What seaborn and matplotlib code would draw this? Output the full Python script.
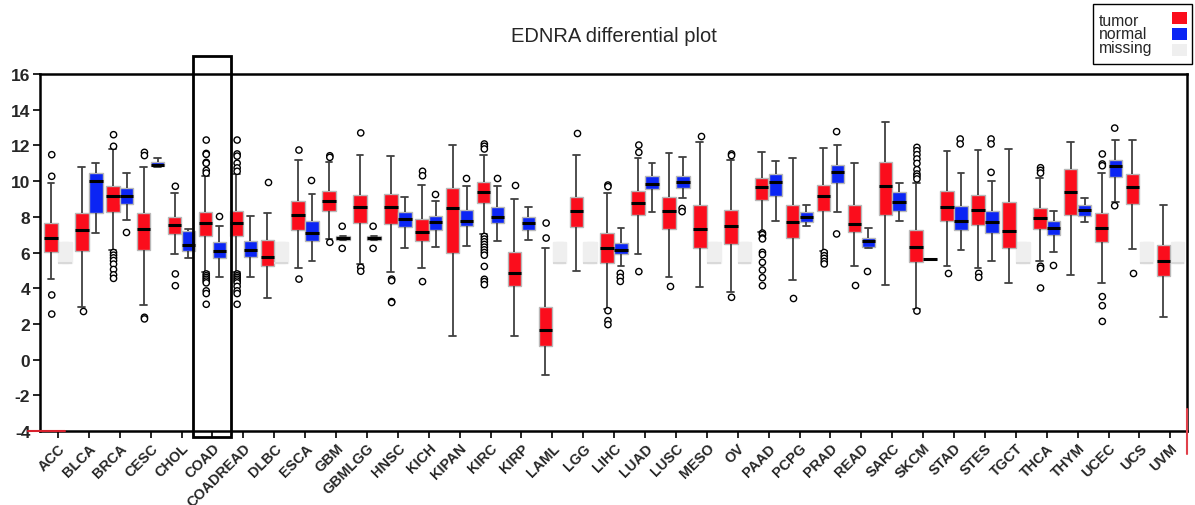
"""EDNRA tumor vs normal expression boxplot across TCGA cohorts."""

import pandas as pd
import matplotlib.pyplot as plt
import seaborn as sns
from matplotlib.patches import Rectangle

cancers = [
    "ACC", "BLCA", "BRCA", "CESC", "CHOL", "COAD", "COADREAD", "DLBC", "ESCA",
    "GBM", "GBMLGG", "HNSC", "KICH", "KIPAN", "KIRC", "KIRP", "LAML", "LGG",
    "LIHC", "LUAD", "LUSC", "MESO", "OV", "PAAD", "PCPG", "PRAD", "READ",
    "SARC", "SKCM", "STAD", "STES", "TGCT", "THCA", "THYM", "UCEC", "UCS", "UVM",
]

# tumor box stats: whisker low, q1, median, q3, whisker high
tumor_lo = [4.52, 2.93, 6.15, 3.08, 5.92, 4.90, 4.90, 3.43, 5.11, 6.76, 5.36, 4.93,
            5.11, 1.34, 7.04, 1.34, -0.86, 4.98, 2.84, 5.92, 4.61, 4.05, 3.81, 7.17,
            4.46, 6.10, 5.26, 4.18, 2.85, 5.23, 5.11, 4.29, 5.50, 4.76, 4.29, 6.20, 2.40]
tumor_q1 = [6.05, 6.07, 8.29, 6.14, 7.04, 6.90, 6.90, 5.26, 7.28, 8.34, 7.65, 7.60,
            6.63, 5.97, 8.77, 4.14, 0.74, 7.41, 5.41, 8.12, 7.32, 6.25, 6.48, 8.96,
            6.79, 8.34, 7.13, 8.10, 5.49, 7.75, 7.56, 6.25, 7.32, 8.12, 6.57, 8.72, 4.66]
tumor_med = [6.81, 7.26, 9.15, 7.32, 7.54, 7.63, 7.63, 5.77, 8.10, 8.90, 8.53, 8.53,
             7.13, 8.49, 9.41, 4.85, 1.66, 8.32, 6.23, 8.77, 8.31, 7.32, 7.47, 9.69,
             7.69, 9.15, 7.60, 9.74, 6.29, 8.57, 8.40, 7.22, 7.95, 9.37, 7.37, 9.69, 5.54]
tumor_q3 = [7.63, 8.21, 9.74, 8.19, 8.01, 8.25, 8.34, 6.72, 8.90, 9.43, 9.22, 9.28,
            7.88, 9.59, 9.93, 6.05, 2.97, 9.13, 7.09, 9.43, 9.09, 8.66, 8.40, 10.15,
            8.68, 9.78, 8.68, 11.05, 7.26, 9.43, 9.22, 8.81, 8.49, 10.68, 8.19, 10.40, 6.44]
tumor_hi = [9.89, 10.81, 11.80, 10.77, 9.33, 10.30, 10.40, 8.21, 11.18, 11.05, 11.48, 11.42,
            9.78, 12.02, 11.48, 9.00, 6.23, 11.48, 9.32, 11.28, 11.56, 12.21, 11.20, 11.65,
            11.29, 11.84, 10.99, 13.33, 9.90, 11.70, 11.76, 11.80, 10.20, 12.21, 10.45, 12.32, 8.68]
tumor_out = [
    [3.62, 2.55, 10.27, 11.48],
    [2.70],
    [12.6, 11.95, 6.0, 5.85, 5.7, 5.55, 5.35, 5.05, 4.75, 4.55],
    [11.61, 11.43, 2.37, 2.28],
    [9.71, 4.8, 4.14],
    [12.3, 11.55, 11.5, 11.05, 11.0, 10.6, 10.45, 4.8, 4.7, 4.6, 4.5, 4.4, 4.3, 3.85, 3.7, 3.1],
    [12.3, 11.52, 11.4, 11.0, 10.74, 10.55, 4.8, 4.7, 4.6, 4.5, 4.4, 4.3, 4.1, 3.85, 3.7, 3.1],
    [9.93],
    [11.74, 4.51],
    [11.42, 11.33, 6.57],
    [12.7, 5.17, 4.95],
    [4.51, 4.42, 3.25, 3.2],
    [10.55, 10.3, 4.37],
    [],
    [12.08, 11.95, 11.8, 6.9, 6.75, 6.6, 6.45, 6.3, 6.15, 6.0, 5.85, 5.22, 4.5, 4.37, 4.2],
    [9.8],
    [7.65, 6.81],
    [12.7],
    [9.78, 9.69, 2.74, 2.18, 1.96],
    [12.02, 11.61, 4.93],
    [4.14],
    [12.51],
    [11.52, 11.43, 3.49],
    [7.09, 7.0, 6.81, 6.76, 6.01, 5.88, 5.45, 5.02, 4.59, 4.14],
    [3.43],
    [6.0, 5.82, 5.67, 5.5, 5.36],
    [4.18],
    [],
    [11.89, 11.7, 11.48, 11.24, 10.99, 10.64, 10.4, 10.27, 10.12, 2.72],
    [4.83],
    [4.83, 4.61],
    [],
    [10.75, 10.6, 10.45, 5.23, 5.11, 4.01],
    [],
    [11.52, 10.96, 10.86, 3.53, 3.02, 2.14],
    [4.83],
    [],
]

# normal box stats (None = no normal samples)
normal_lo = [None, 7.07, 7.82, 10.80, 5.69, 4.61, 4.61, None, 5.50, 6.72, 6.72, 6.23,
             6.33, 6.35, 6.63, 6.72, None, None, 5.23, 8.29, 9.03, None, None, 7.75,
             7.50, 8.25, 6.23, 7.78, 5.64, 6.14, 5.50, None, 6.05, 7.73, 8.85, None, None]
normal_q1 = [None, 8.19, 8.72, 10.85, 6.10, 5.69, 5.73, None, 6.66, 6.72, 6.72, 7.41,
             7.28, 7.50, 7.63, 7.28, None, None, 5.92, 9.56, 9.60, None, None, 9.18,
             7.73, 9.89, 6.29, 8.34, 5.64, 7.28, 7.09, None, 7.00, 8.06, 10.25, None, None]
normal_med = [None, 10.02, 9.15, 10.92, 6.42, 6.07, 6.16, None, 7.07, 6.81, 6.81, 7.86,
              7.69, 7.78, 8.01, 7.63, None, None, 6.16, 9.84, 9.97, None, None, 9.93,
              7.97, 10.53, 6.66, 8.85, 5.64, 7.75, 7.69, None, 7.35, 8.40, 10.83, None, None]
normal_q3 = [None, 10.45, 9.59, 11.05, 7.22, 6.57, 6.66, None, 7.78, 6.94, 6.94, 8.25,
             8.03, 8.38, 8.57, 8.01, None, None, 6.53, 10.27, 10.27, None, None, 10.40,
             8.29, 10.90, 6.81, 9.37, 5.64, 8.62, 8.32, None, 7.78, 8.66, 11.20, None, None]
normal_hi = [None, 11.03, 10.45, 11.30, 7.32, 7.50, 8.06, None, 9.28, 6.94, 6.94, 9.13,
             8.87, 9.71, 9.71, 8.53, None, None, 7.35, 10.99, 11.37, None, None, 11.14,
             8.68, 12.02, 7.35, 9.89, 5.64, 10.45, 10.00, None, 8.34, 9.03, 12.32, None, None]
normal_out = [
    [], [], [7.17], [], [], [8.03], [], [], [10.06], [7.47, 6.23], [7.47, 6.23], [],
    [9.28], [10.17], [10.17], [], [], [], [4.83, 4.61, 4.38], [], [8.47, 8.29], [], [],
    [], [], [12.77, 7.04], [4.94], [], [], [12.36, 12.08], [12.36, 12.08, 10.49], [],
    [5.3], [], [12.97, 8.62], [], [],
]

# placeholder box drawn where normal samples are missing
missing_stats = [5.4, 5.4, 5.4, 6.6, 6.6]

RED = "#fb0d1c"
BLUE = "#0b25f4"
GRAY = "#efefef"


def box_frame():
    rows = []
    groups = [
        ("tumor", tumor_lo, tumor_q1, tumor_med, tumor_q3, tumor_hi),
        ("normal", normal_lo, normal_q1, normal_med, normal_q3, normal_hi),
    ]
    for group, lo, q1, med, q3, hi in groups:
        for i, c in enumerate(cancers):
            if lo[i] is None:
                continue
            for v in (lo[i], q1[i], med[i], q3[i], hi[i]):
                rows.append({"cancer": c, "group": group, "value": v})
    return pd.DataFrame(rows)


def outlier_frame():
    rows = []
    for group, out in (("tumor", tumor_out), ("normal", normal_out)):
        for c, vals in zip(cancers, out):
            for v in vals:
                rows.append({"cancer": c, "group": group, "value": v})
    return pd.DataFrame(rows)


def missing_frame():
    rows = []
    for c, lo in zip(cancers, normal_lo):
        if lo is None:
            for v in missing_stats:
                rows.append({"cancer": c, "group": "normal", "value": v})
    return pd.DataFrame(rows)


sns.set_style("white")
plt.rcParams["font.family"] = ["Liberation Sans", "DejaVu Sans"]

fig = plt.figure(figsize=(11.95, 5.06), dpi=100)
ax = fig.add_axes([40 / 1195, 74 / 506, 1147 / 1195, 357 / 506])

common = dict(x="cancer", y="value", hue="group", order=cancers,
              hue_order=["tumor", "normal"], dodge=True, legend=False, ax=ax)

sns.boxplot(data=missing_frame(), palette={"tumor": GRAY, "normal": GRAY},
            saturation=1, width=0.9, gap=0.03, whis=(0, 100), showfliers=False,
            linewidth=1.0, linecolor=GRAY,
            medianprops={"color": "#d9d9d9", "linewidth": 1.5}, **common)

sns.boxplot(data=box_frame(), palette={"tumor": RED, "normal": BLUE},
            saturation=1, width=0.9, gap=0.03, whis=(0, 100), showfliers=False,
            linewidth=1.3, linecolor="#404040",
            boxprops={"edgecolor": "#b8b8b8", "linewidth": 1.0},
            medianprops={"color": "black", "linewidth": 2.2}, **common)

sns.stripplot(data=outlier_frame(), palette={"tumor": "white", "normal": "white"},
              jitter=False, size=4.5, edgecolor="black", linewidth=1.0,
              zorder=5, **common)

ax.set_xlim(-0.58, 36.54)
ax.set_ylim(-4, 16)
ax.set_yticks(range(-4, 17, 2))
ax.set_yticklabels([str(v) for v in range(-4, 17, 2)], fontweight="bold", fontsize=12.5)
ax.set_xticks(range(len(cancers)))
ax.set_xticklabels(cancers, rotation=45, ha="right", rotation_mode="anchor",
                   fontweight="bold", fontsize=10.4)
ax.set_xlabel("")
ax.set_ylabel("")
ax.tick_params(axis="both", direction="out", length=5, width=1.2, color="black",
               left=True, bottom=True, pad=3)
ax.tick_params(axis="x", pad=2)
ax.tick_params(axis="y", pad=2)
for side in ax.spines.values():
    side.set_color("black")
    side.set_linewidth(1.8)

# highlight box around COAD
coad = cancers.index("COAD")
ax.add_patch(Rectangle((coad - 0.63, -4.34), 1.23, 21.35, fill=False,
                       edgecolor="black", linewidth=2.0, clip_on=False, zorder=7))
# small red marks at the axes corners
ax.plot([-0.97, 0.23], [-4, -4], color="#d8202c", linewidth=1.5, clip_on=False, zorder=6)
ax.plot([36.54, 36.54], [-2.77, -5.3], color="#e0404a", linewidth=1.5, clip_on=False, zorder=6)

fig.text(613.5 / 1195, 1 - 36 / 506, "EDNRA differential plot", ha="center",
         va="center", fontsize=14.5)

# legend box drawn by hand: labels on the left, colour squares on the right
W, H = 1195.0, 506.0
fig.add_artist(Rectangle((1093 / W, 1 - 65 / H), 99 / W, 60 / H, transform=fig.transFigure,
                         facecolor="white", edgecolor="black", linewidth=1.0))
legend_labels = ["tumor", "normal", "missing"]
legend_colors = [RED, BLUE, GRAY]
text_base = [25.5, 39, 52.5]
square_top = [13, 29, 45]
for lab, col, tb, st in zip(legend_labels, legend_colors, text_base, square_top):
    fig.text(1099 / W, 1 - tb / H, lab, ha="left", va="baseline", fontsize=11.3)
    fig.add_artist(Rectangle((1172 / W, 1 - (st + 12) / H), 15 / W, 12 / H,
                             transform=fig.transFigure, facecolor=col,
                             edgecolor="none"))

fig.savefig("out.png", dpi=100)
